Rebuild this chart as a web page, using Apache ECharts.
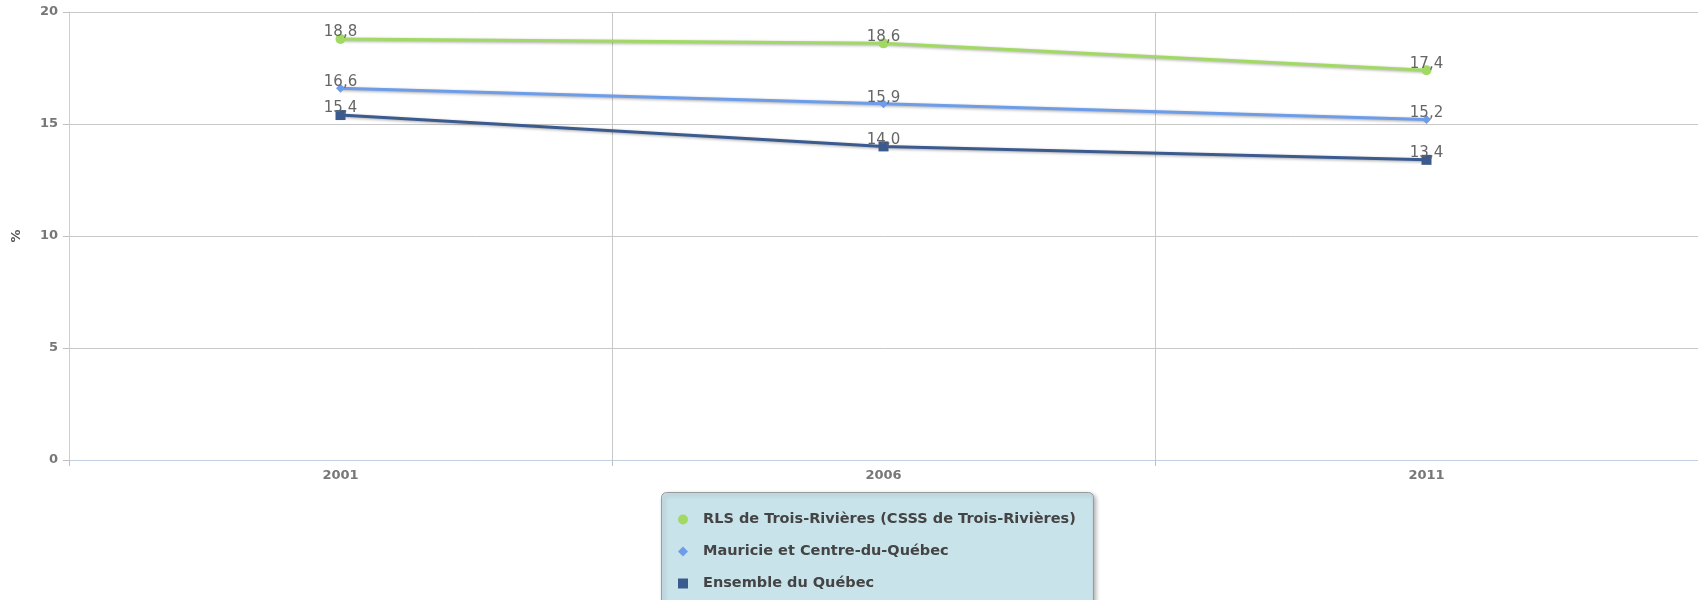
<!DOCTYPE html>
<html lang="fr">

<head>
    <meta charset="UTF-8">
    <title>Taux</title>
    <style>
        html, body { margin: 0; padding: 0; background: #fff; }
        .box { width: 1698px; height: 600px; }
    </style>
</head>

<body>
    <div class="box"></div>

    <script src="https://cdn.jsdelivr.net/npm/echarts@6/dist/echarts.min.js"></script>
    <script>
        let myChart = echarts.init(document.querySelector(".box"));

        let years = ["2001", "2006", "2011"]
        let rlsData = [18.8, 18.6, 17.4]
        let mauricieData = [16.6, 15.9, 15.2]
        let quebecData = [15.4, 14.0, 13.4]
        let seriesNames = [
            "RLS de Trois-Rivières (CSSS de Trois-Rivières)",
            "Mauricie et Centre-du-Québec",
            "Ensemble du Québec"
        ]
        let colors = ["#a2d964", "#6d9ce9", "#3b5a8e"]

        // étiquettes avec virgule décimale
        let label = {
            show: true,
            position: "top",
            distance: -6,
            color: "#666",
            fontFamily: "DejaVu Sans",
            fontSize: 15,
            formatter: function (p) {
                return p.value.toFixed(1).replace(".", ",")
            }
        }
        let shadow = {
            shadowColor: "rgba(0,0,0,0.35)",
            shadowBlur: 3,
            shadowOffsetX: 1,
            shadowOffsetY: 1
        }

        function makeSeries(name, data, symbol, size, color) {
            return {
                name: name,
                type: "line",
                data: data,
                symbol: symbol,
                symbolSize: size,
                showAllSymbol: true,
                lineStyle: Object.assign({ width: 3, color: color }, shadow),
                itemStyle: { color: color },
                label: label,
                z: 3
            }
        }

        option = {
            animation: false,
            color: colors,
            textStyle: { fontFamily: "DejaVu Sans" },
            grid: {
                left: 69,
                right: -7,
                top: 12,
                bottom: 140
            },
            // fond de la légende (déborde en bas comme l'original)
            graphic: [{
                type: "rect",
                left: 661,
                top: 492,
                shape: { width: 432, height: 130, r: 5 },
                style: {
                    fill: "#c9e3ea",
                    stroke: "#9a9a9a",
                    lineWidth: 1,
                    shadowColor: "rgba(0,0,0,0.3)",
                    shadowBlur: 4,
                    shadowOffsetX: 2,
                    shadowOffsetY: 2
                },
                z: -1
            }],
            legend: {
                orient: "vertical",
                left: 678,
                top: 512,
                padding: 0,
                itemWidth: 10,
                itemHeight: 10,
                itemGap: 17,
                textStyle: {
                    color: "#444",
                    fontWeight: "bold",
                    fontSize: 14.5,
                    fontFamily: "DejaVu Sans",
                    padding: [0, 0, 0, 10]
                },
                data: [
                    { name: seriesNames[0], icon: "circle" },
                    { name: seriesNames[1], icon: "diamond" },
                    { name: seriesNames[2], icon: "rect" }
                ]
            },
            xAxis: {
                type: "category",
                data: years,
                boundaryGap: true,
                axisLine: { lineStyle: { color: "#c0d0e0", width: 1 } },
                axisTick: { show: true, length: 6, lineStyle: { color: "#c0c0c0" } },
                axisLabel: {
                    color: "#777",
                    fontWeight: "bold",
                    fontSize: 13,
                    margin: 9
                },
                splitLine: { show: true, lineStyle: { color: "#c8c8c8" } }
            },
            yAxis: {
                type: "value",
                min: 0,
                max: 20,
                interval: 5,
                name: "%",
                nameLocation: "middle",
                nameGap: 46,
                nameRotate: 90,
                nameTextStyle: { color: "#555", fontWeight: "bold", fontSize: 13 },
                axisLine: { show: true, lineStyle: { color: "#c0d0e0", width: 1 } },
                axisTick: { show: true, length: 6, lineStyle: { color: "#c0c0c0" } },
                axisLabel: {
                    color: "#777",
                    fontWeight: "bold",
                    fontSize: 13,
                    margin: 11
                },
                splitLine: { show: true, lineStyle: { color: "#c8c8c8" } }
            },
            series: [
                makeSeries(seriesNames[0], rlsData, "circle", 10, colors[0]),
                makeSeries(seriesNames[1], mauricieData, "diamond", 9, colors[1]),
                makeSeries(seriesNames[2], quebecData, "rect", 10, colors[2])
            ]
        }
        myChart.setOption(option);
    </script>
</body>

</html>
